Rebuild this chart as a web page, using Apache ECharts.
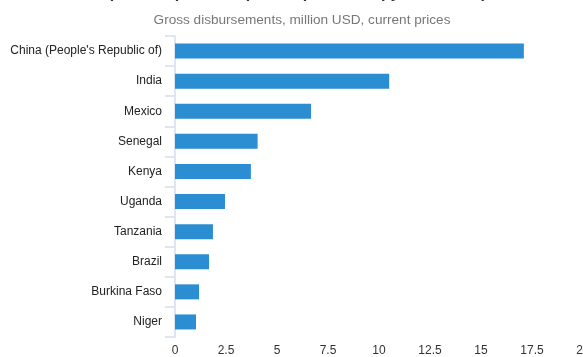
<!DOCTYPE html>
<html>
<head>
<meta charset="utf-8">
<script src="https://cdn.jsdelivr.net/npm/echarts@6/dist/echarts.min.js"></script>
<style>html,body{margin:0;padding:0;background:#fff;}#c{width:583px;height:357px;}</style>
</head>
<body>
<div id="c"></div>
<script>
var categories = ["China (People's Republic of)", "India", "Mexico", "Senegal", "Kenya", "Uganda", "Tanzania", "Brazil", "Burkina Faso", "Niger"];
var values = [17.1, 10.5, 6.67, 4.05, 3.72, 2.45, 1.86, 1.67, 1.18, 1.03];
var titleText = "Top 10 recipients of private philanthropy for development";
var subtitleText = "Gross disbursements, million USD, current prices";

var chart = echarts.init(document.getElementById('c'), null, {renderer: 'canvas'});
chart.setOption({
  animation: false,
  title: [
    {text: titleText, left: 305, textAlign: 'center', top: -19,
     textStyle: {fontFamily: 'Liberation Sans, Arial', fontSize: 16, fontWeight: 'bold', color: '#333'}},
    {text: subtitleText, left: 297, textAlign: 'center', top: 8,
     textStyle: {fontFamily: 'Liberation Sans, Arial', fontSize: 13.6, fontWeight: 'normal', color: '#777'}}
  ],
  grid: {left: 175, right: 0, top: 36, bottom: 20, containLabel: false, outerBoundsMode: 'none'},
  xAxis: {
    type: 'value', min: 0, max: 20, interval: 2.5,
    axisLine: {show: false}, axisTick: {show: false}, splitLine: {show: false},
    axisLabel: {fontFamily: 'Liberation Sans, Arial', fontSize: 12, color: '#333', margin: 8}
  },
  yAxis: {
    type: 'category', inverse: true, data: categories,
    axisLine: {show: true, lineStyle: {color: '#dfe5f3', width: 2}},
    axisTick: {show: true, length: 10, lineStyle: {color: '#dfe5f3', width: 2}},
    axisLabel: {fontFamily: 'Liberation Sans, Arial', fontSize: 12, color: '#222', margin: 13}
  },
  series: [{
    type: 'bar', data: values, barWidth: 15,
    itemStyle: {color: '#2b8dd2'}
  }]
});
</script>
</body>
</html>
